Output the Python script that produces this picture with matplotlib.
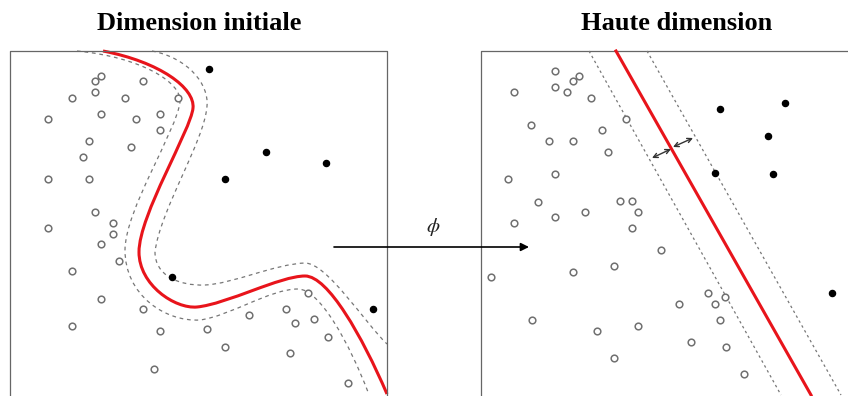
import matplotlib
matplotlib.use("Agg")
import matplotlib.pyplot as plt
from matplotlib.path import Path
from matplotlib.patches import PathPatch

# schema SVM : dimension initiale -> haute dimension (coordonnees en pixels)
titles = ["Dimension initiale", "Haute dimension"]
title_x = [199, 677]

# points panneau gauche
left_open_x = [101, 95, 143, 95, 72, 125, 178, 101, 48, 136, 160, 160, 89, 131, 83, 48, 89,
               95, 48, 113, 113, 101, 119, 72, 101, 143, 72, 160, 207, 249, 225, 154,
               286, 308, 295, 314, 328, 290, 348]
left_open_y = [76, 81, 81, 92, 98, 98, 98, 114, 119, 119, 114, 130, 141, 147, 157, 179, 179,
               212, 228, 223, 234, 244, 261, 271, 299, 309, 326, 331, 329, 315, 347, 369,
               309, 293, 323, 319, 337, 353, 383]
left_fill_x = [209, 266, 326, 225, 172, 373]
left_fill_y = [69, 152, 163, 179, 277, 309]

# points panneau droit
right_open_x = [555, 579, 573, 555, 567, 514, 591, 626, 531, 602, 549, 573, 608, 555, 508,
                538, 620, 632, 585, 638, 514, 555, 632, 661, 491, 573, 614, 708, 725, 679,
                715, 720, 532, 597, 638, 691, 726, 614, 744]
right_open_y = [71, 76, 81, 87, 92, 92, 98, 119, 125, 130, 141, 141, 152, 174, 179,
                202, 201, 201, 212, 212, 223, 217, 228, 250, 277, 272, 266, 293, 297, 304,
                304, 320, 320, 331, 326, 342, 347, 358, 374]
right_fill_x = [720, 785, 768, 715, 773, 832]
right_fill_y = [109, 103, 136, 173, 174, 293]

# frontiere gauche : courbes de Bezier (points de controle)
red_curve = [(103, 51), (160, 62), (195, 88), (193, 108),
             (191, 130), (139, 215), (139, 252),
             (139, 285), (175, 309), (197, 307),
             (227, 304), (280, 276), (305, 276),
             (328, 276), (362, 336), (387, 394)]
outer_curve = [(77, 51), (140, 57), (182, 82), (180, 102),
               (177, 130), (125, 210), (125, 250),
               (125, 295), (165, 322), (200, 320),
               (230, 316), (270, 289), (298, 289),
               (320, 289), (350, 345), (368, 392)]
inner_curve = [(152, 51), (188, 58), (209, 84), (207, 106),
               (205, 140), (160, 210), (155, 252),
               (155, 275), (178, 286), (205, 285),
               (232, 284), (275, 264), (305, 263),
               (327, 263), (365, 323), (387, 344)]

# frontiere droite : droites
red_line = [(616, 51), (811, 395)]
dash_left = [(589, 51), (781, 395)]
dash_right = [(647, 51), (841, 395)]
margin_arrows = [((652, 158), (671, 149)), ((673, 147), (693, 138))]


def bezier(pts):
    codes = [Path.MOVETO] + [Path.CURVE4] * (len(pts) - 1)
    return Path(pts, codes)


fig = plt.figure(figsize=(8.48, 3.96), dpi=100)
ax = fig.add_axes([0, 0, 1, 1])
ax.set_xlim(0, 848)
ax.set_ylim(396, 0)
ax.axis("off")

frame = dict(color="#666666", lw=0.9)
ax.plot([10, 10, 387, 387], [396, 51, 51, 396], **frame)
ax.plot([481, 481, 848], [396, 51, 51], **frame)

for t, x in zip(titles, title_x):
    ax.text(x, 23, t, ha="center", va="center", fontsize=19,
            family="Liberation Serif", weight="bold")

ax.add_patch(PathPatch(bezier(outer_curve), fill=False, ec="#777777", lw=0.9,
                       ls=(0, (3, 3))))
ax.add_patch(PathPatch(bezier(inner_curve), fill=False, ec="#777777", lw=0.9,
                       ls=(0, (3, 3))))
ax.add_patch(PathPatch(bezier(red_curve), fill=False, ec="#e8141b", lw=2.2))

for ln in (dash_left, dash_right):
    ax.plot([ln[0][0], ln[1][0]], [ln[0][1], ln[1][1]], color="#777777", lw=0.9,
            ls=(0, (2, 2.5)))
ax.plot([red_line[0][0], red_line[1][0]], [red_line[0][1], red_line[1][1]],
        color="#e8141b", lw=2.2)

for a, b in margin_arrows:
    ax.annotate("", xy=b, xytext=a,
                arrowprops=dict(arrowstyle="<->", color="#333333", lw=1,
                                shrinkA=0, shrinkB=0, mutation_scale=8))

mk = dict(ls="none", marker="o")
ax.plot(left_open_x, left_open_y, ms=4.8, mfc="white", mec="#707070", mew=1.1, **mk)
ax.plot(right_open_x, right_open_y, ms=4.8, mfc="white", mec="#707070", mew=1.1, **mk)
ax.plot(left_fill_x, left_fill_y, ms=4.4, mfc="black", mec="black", **mk)
ax.plot(right_fill_x, right_fill_y, ms=4.4, mfc="black", mec="black", **mk)

# fleche phi
ax.annotate("", xy=(529, 247), xytext=(334, 247),
            arrowprops=dict(arrowstyle="-|>", color="black", lw=1.2,
                            shrinkA=0, shrinkB=0, mutation_scale=12))
plt.rcParams["mathtext.fontset"] = "stix"
ax.text(433, 227, r"$\phi$", ha="center", va="center", fontsize=15, color="#222222")

fig.savefig("out.png", dpi=100)
